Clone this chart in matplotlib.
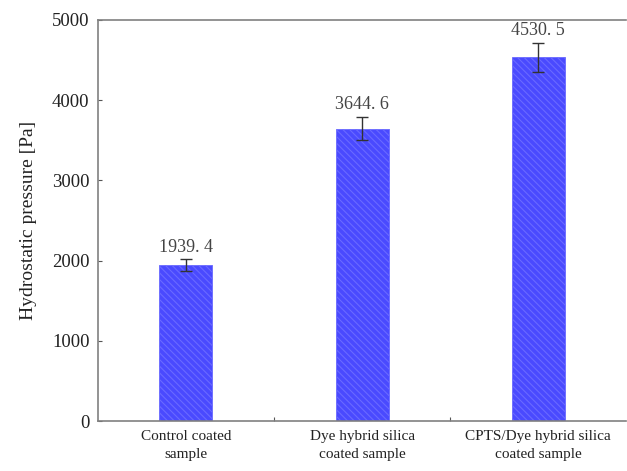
import numpy as np
import matplotlib.pyplot as plt

# Data
samples = ["Control coated\nsample", "Dye hybrid silica\ncoated sample", "CPTS/Dye hybrid silica\ncoated sample"]
pressure = [1939.4, 3644.6, 4530.5]
errors = [75, 145, 180]
value_labels = ["1939. 4", "3644. 6", "4530. 5"]

plt.rcParams['hatch.color'] = '#9a9aff'
plt.rcParams['hatch.linewidth'] = 0.8

fig = plt.figure(figsize=(6.27, 4.71), dpi=100)
ax = fig.add_axes([0.156, 0.106, 0.843, 0.852])

x = np.arange(len(samples)) + 0.5
ax.bar(x, pressure, width=0.3, color='#4a4aff', edgecolor='#6a6aff',
       hatch='\\\\\\\\\\', linewidth=0.6, zorder=2)
ax.errorbar(x, pressure, yerr=errors, fmt='none', ecolor='#333333',
            elinewidth=1.0, capsize=4, capthick=1.0, zorder=3)

for xi, v, e, lab in zip(x, pressure, errors, value_labels):
    ax.text(xi, v + e + 45, lab, ha='center', va='bottom', fontsize=13,
            family='Liberation Serif', color='#444444')

ax.set_xlim(0, 3)
ax.set_ylim(0, 5000)
ax.set_yticks([0, 1000, 2000, 3000, 4000, 5000])
ax.set_xticks([1, 2])
ax.set_xticklabels([])
ax.tick_params(axis='x', direction='in', length=3, color='#555555')
ax.tick_params(axis='y', direction='in', length=3, color='#555555',
               labelsize=13.5, pad=6, labelcolor='#222222')
for lab in ax.get_yticklabels():
    lab.set_family('Liberation Serif')

for xi, s in zip(x, samples):
    ax.text(xi, -110, s, ha='center', va='top', fontsize=11,
            family='Liberation Serif', color='#222222', linespacing=1.55,
            transform=ax.transData, clip_on=False)

ax.set_ylabel('Hydrostatic pressure [Pa]', fontsize=14,
              family='Liberation Serif', color='#222222', labelpad=11)

for side in ['left', 'bottom', 'top']:
    ax.spines[side].set_color('#808080')
    ax.spines[side].set_linewidth(1.2)
ax.spines['right'].set_visible(False)

fig.savefig('out.png', dpi=100)
